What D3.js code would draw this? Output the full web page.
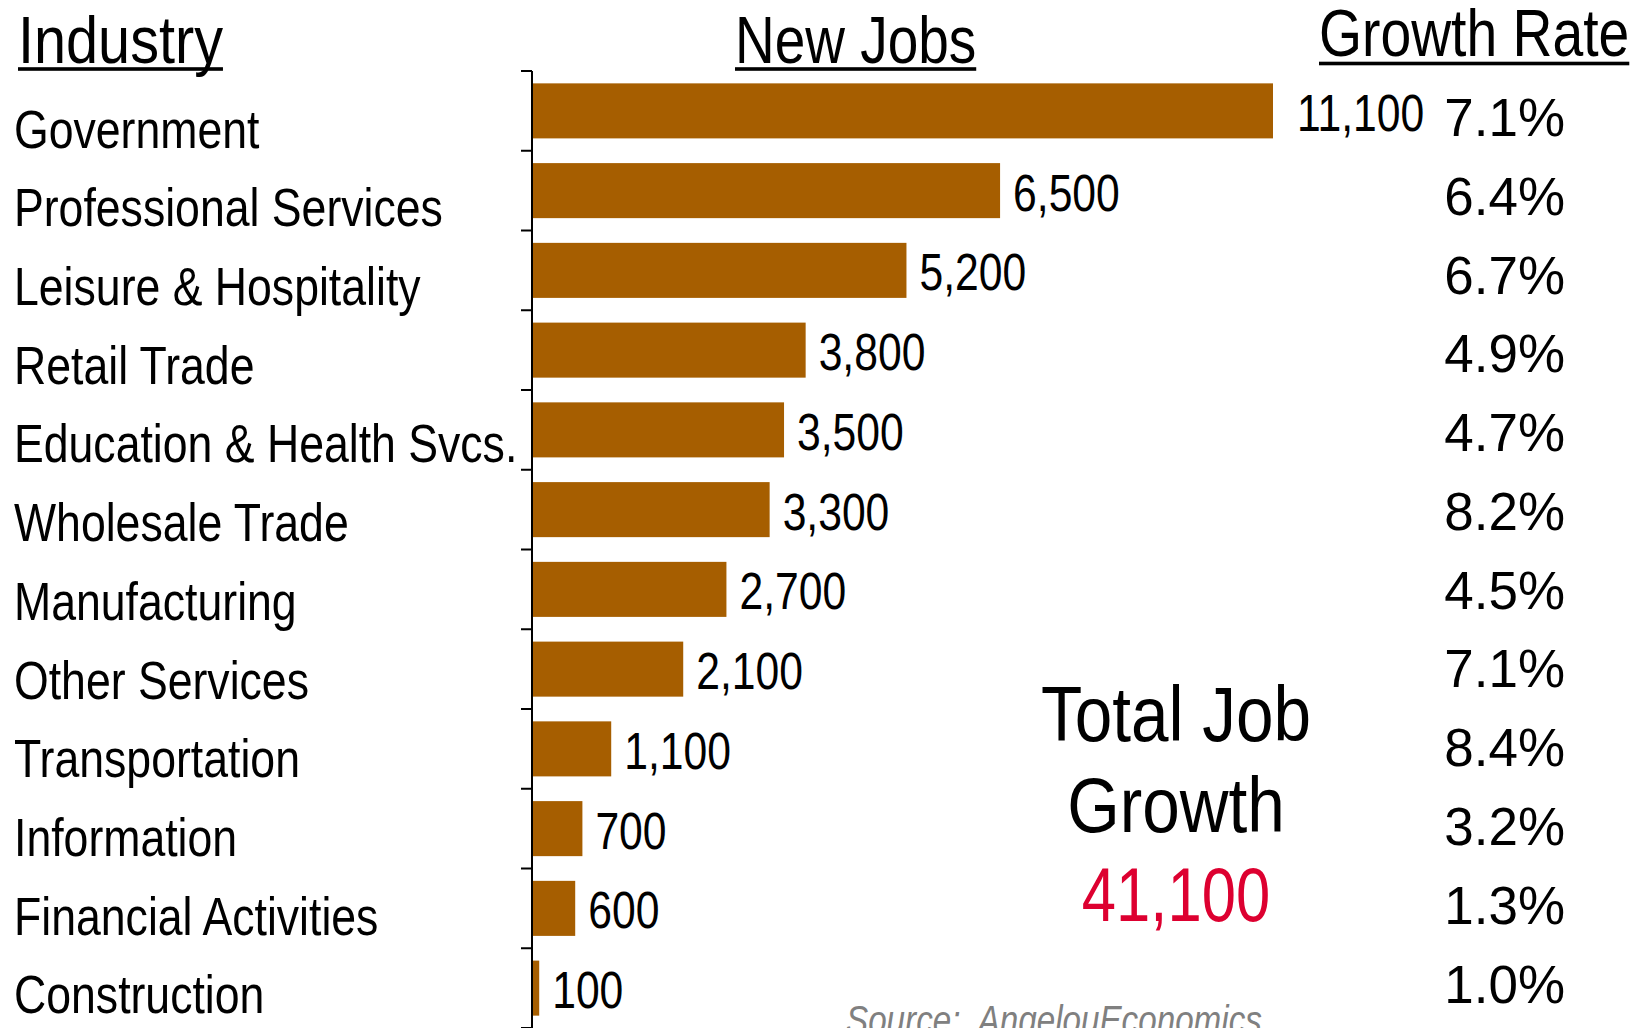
<!DOCTYPE html>
<html>
<head>
<meta charset="utf-8">
<script src="https://cdn.jsdelivr.net/npm/d3@7"></script>
<style>
  html, body { margin: 0; padding: 0; background: #fff; overflow: hidden; }
  svg { display: block; }
  text { font-family: "Liberation Sans", Arial, sans-serif; }
</style>
</head>
<body>
<svg id="chart" width="1641" height="1028"></svg>
<script>
// Industries, ordered from largest to smallest job gain
const industries = [
  "Government", "Professional Services", "Leisure & Hospitality", "Retail Trade",
  "Education & Health Svcs.", "Wholesale Trade", "Manufacturing", "Other Services",
  "Transportation", "Information", "Financial Activities", "Construction"
];
const newJobs = [11100, 6500, 5200, 3800, 3500, 3300, 2700, 2100, 1100, 700, 600, 100];
const growthRates = ["7.1%", "6.4%", "6.7%", "4.9%", "4.7%", "8.2%", "4.5%", "7.1%", "8.4%", "3.2%", "1.3%", "1.0%"];
const headers = ["Industry", "New Jobs", "Growth Rate"];
const totalTitle = ["Total Job", "Growth"];
const totalJobs = 41100;
const sourceNote = "Source:  AngelouEconomics";

const svg = d3.select("#chart");
const fmt = d3.format(",");
const barColor = "#A65E00";

// Narrow lettering: compress each text horizontally to a condensed width
const NARROW = 0.82;
function condense(sel, k = NARROW) {
  sel.each(function () {
    const w = this.getComputedTextLength();
    d3.select(this).attr("textLength", w * k).attr("lengthAdjust", "spacingAndGlyphs");
  });
  return sel;
}

// Horizontal scale: the axis stops short of the largest value, so that bar is clamped at the edge
const x = d3.scaleLinear().domain([0, 10290]).range([532, 1273]).clamp(true);
const y = d3.scaleBand().domain(industries).range([71, 1028]).paddingInner(0.31).paddingOuter(0.155);

// Text rows for the industry names and the growth-rate column
const labelRow = d3.scaleLinear().domain([0, industries.length - 1]).range([147.6, 1013.3]);
const rateRow = d3.scaleLinear().domain([0, industries.length - 1]).range([136, 1002.6]);

// Bars
svg.append("g").selectAll("rect")
  .data(newJobs)
  .join("rect")
  .attr("x", x(0))
  .attr("y", (d, i) => y(industries[i]))
  .attr("width", d => x(d) - x(0))
  .attr("height", y.bandwidth())
  .attr("fill", barColor);

// Vertical axis with tick marks between categories
const axis = svg.append("g");
const step = y.step();
const edges = d3.range(industries.length + 1).map(i => y.range()[0] + i * step);
axis.append("line")
  .attr("x1", x(0)).attr("x2", x(0))
  .attr("y1", y.range()[0]).attr("y2", y.range()[1])
  .attr("stroke", "#000").attr("stroke-width", 2);
axis.selectAll("line.tick")
  .data(edges)
  .join("line")
  .attr("class", "tick")
  .attr("x1", x(0) - 11).attr("x2", x(0))
  .attr("y1", d => d).attr("y2", d => d)
  .attr("stroke", "#000").attr("stroke-width", 2);

// Value labels at the end of each bar
svg.append("g").selectAll("text")
  .data(newJobs)
  .join("text")
  .attr("x", d => x(d) + (d > x.domain()[1] ? 24 : 13))
  .attr("y", (d, i) => y(industries[i]) + y.bandwidth() / 2 + 20)
  .attr("font-size", 52)
  .attr("fill", "#000")
  .text(d => fmt(d))
  .call(condense);

// Industry names
svg.append("g").selectAll("text")
  .data(industries)
  .join("text")
  .attr("x", 14)
  .attr("y", (d, i) => labelRow(i))
  .attr("font-size", 54)
  .attr("fill", "#000")
  .text(d => d)
  .call(condense, 0.826);

// Growth rates, right aligned
svg.append("g").selectAll("text")
  .data(growthRates)
  .join("text")
  .attr("x", 1565)
  .attr("y", (d, i) => rateRow(i))
  .attr("text-anchor", "end")
  .attr("font-size", 54)
  .attr("fill", "#000")
  .text(d => d)
  .call(condense, 0.98);

// Column headers with underlines
const headerPos = [
  { x: 18, y: 62.8, u: 69, k: 0.86 },
  { x: 735, y: 62.8, u: 69, k: 0.82 },
  { x: 1319, y: 55.5, u: 63.5, k: 0.825 }
];
const hg = svg.append("g");
headers.forEach((h, i) => {
  const p = headerPos[i];
  const t = hg.append("text")
    .attr("x", p.x).attr("y", p.y)
    .attr("font-size", 67)
    .attr("fill", "#000")
    .text(h)
    .call(condense, p.k);
  const w = +t.attr("textLength");
  hg.append("rect")
    .attr("x", p.x).attr("y", p.u - 1.8)
    .attr("width", w).attr("height", 3.6)
    .attr("fill", "#000");
});

// Total job growth callout
const tg = svg.append("g").attr("text-anchor", "middle");
tg.selectAll("text.title")
  .data(totalTitle)
  .join("text")
  .attr("class", "title")
  .attr("x", 1176)
  .attr("y", (d, i) => 741 + i * 91)
  .attr("font-size", 78)
  .attr("fill", "#000")
  .text(d => d)
  .call(condense, 0.865);
tg.append("text")
  .attr("x", 1176)
  .attr("y", 921)
  .attr("font-size", 76)
  .attr("fill", "#DD0030")
  .text(fmt(totalJobs))
  .call(condense, 0.81);

// Source note
svg.append("text")
  .attr("x", 846)
  .attr("y", 1034)
  .attr("font-size", 40)
  .attr("font-style", "italic")
  .attr("fill", "#808080")
  .attr("xml:space", "preserve")
  .style("white-space", "pre")
  .text(sourceNote)
  .call(condense, 0.83);
</script>
</body>
</html>
